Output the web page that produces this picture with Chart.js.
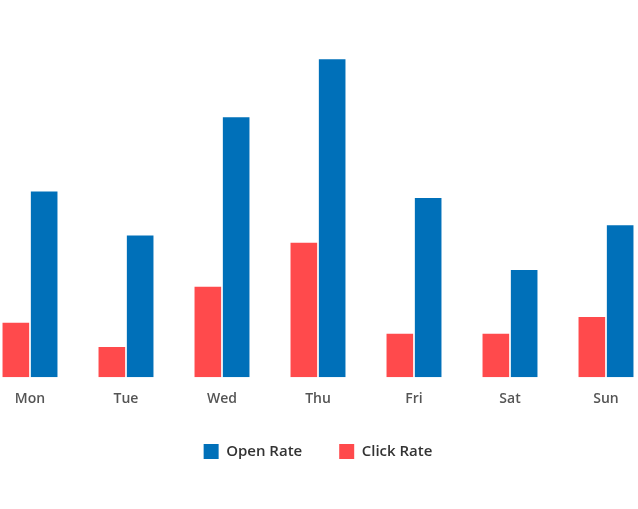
<!DOCTYPE html>
<html>
<head>
<meta charset="utf-8">
<script src="https://cdn.jsdelivr.net/npm/chart.js@4/dist/chart.umd.min.js"></script>
<style>
html,body{margin:0;padding:0;background:#fff;overflow:hidden;width:638px;height:509px;}
#wrap{position:absolute;left:-18px;top:0;width:672px;height:509px;}
</style>
</head>
<body>
<div id="wrap"><canvas id="c"></canvas></div>
<script>
const categories = ["Mon", "Tue", "Wed", "Thu", "Fri", "Sat", "Sun"];
const openRate = [25.3, 19.3, 35.4, 43.3, 24.4, 14.6, 20.7];
const clickRate = [7.4, 4.1, 12.3, 18.3, 5.9, 5.9, 8.2];
const seriesNames = ["Open Rate", "Click Rate"];

new Chart(document.getElementById('c'), {
  type: 'bar',
  data: {
    labels: categories,
    datasets: [
      { label: seriesNames[1], data: clickRate, backgroundColor: '#ff4a4c', borderWidth: 0 },
      { label: seriesNames[0], data: openRate, backgroundColor: '#0070b9', borderWidth: 0 }
    ]
  },
  options: {
    responsive: true,
    maintainAspectRatio: false,
    animation: false,
    categoryPercentage: 0.59,
    barPercentage: 0.94,
    layout: { padding: { top: 10, bottom: 40, left: 0, right: 0 } },
    plugins: {
      tooltip: { enabled: false },
      legend: {
        position: 'bottom',
        reverse: true,
        labels: {
          boxWidth: 15,
          boxHeight: 15,
          padding: 37,
          color: '#333',
          font: { family: '"Open Sans"', size: 15, weight: '600' }
        }
      }
    },
    scales: {
      x: {
        grid: { display: false, drawTicks: false },
        border: { display: false },
        ticks: { color: '#555', padding: 13, font: { family: '"Open Sans"', size: 14, weight: '600' } },
        afterFit: (scale) => { scale.height -= 13; }
      },
      y: {
        display: false,
        min: 0,
        max: 50
      }
    }
  }
});
</script>
</body>
</html>
